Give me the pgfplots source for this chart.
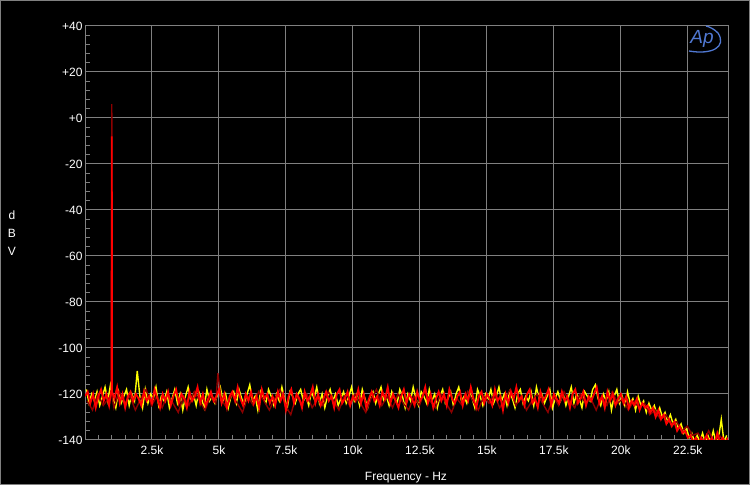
\documentclass[border=0pt]{standalone}
\usepackage{pgfplots}
\pgfplotsset{compat=1.18}
\usepackage{fontspec}
\setmainfont{Liberation Sans}
\definecolor{gridgray}{RGB}{128,128,128}
\definecolor{apred}{RGB}{255,0,0}
\definecolor{apdark}{RGB}{140,0,0}
\definecolor{apyellow}{RGB}{255,255,0}
\definecolor{apblue}{RGB}{80,120,210}
\begin{document}
\begin{tikzpicture}[x=1pt,y=1pt]
\useasboundingbox (0,0) rectangle (750,485);
\fill[black] (0,0) rectangle (750,485);
\draw[gray, line width=1pt] (0.5,0.5) rectangle (749.5,484.5);
\begin{axis}[
  at={(85pt,45pt)}, anchor=south west,
  scale only axis, width=643pt, height=414pt,
  xmin=0, xmax=24, ymin=-140, ymax=40,
  axis line style={gridgray, line width=1pt},
  grid=major,
  major grid style={gridgray, line width=1pt},
  xtick={2.5,5,7.5,10,12.5,15,17.5,20,22.5},
  xticklabels={2.5k,5k,7.5k,10k,12.5k,15k,17.5k,20k,22.5k},
  minor xtick={0.5,1,...,23.5},
  ytick={-140,-120,-100,-80,-60,-40,-20,0,20,40},
  yticklabels={-140,-120,-100,-80,-60,-40,-20,+0,+20,+40},
  minor ytick={-136,-132,...,36},
  major tick length=0pt,
  minor tick length=5pt,
  tick align=inside,
  xtick pos=left, ytick pos=left,
  minor tick style={gridgray, line width=1pt},
  ticklabel style={white, font=\fontsize{12}{14}\selectfont},
  xticklabel style={yshift=-2pt},
  yticklabel style={xshift=1pt},
]
\addplot[apyellow, line width=1.4pt] coordinates {
(0.05,-118)(0.15,-124)(0.25,-120)(0.35,-123)(0.45,-119)(0.55,-125)(0.65,-121)(0.75,-117)(0.85,-123)(0.95,-116)
(1.05,-122)(1.15,-126)(1.25,-119)(1.35,-124)(1.45,-121)(1.55,-118)(1.65,-125)(1.75,-120)(1.85,-123)(1.95,-110)
(2.05,-121)(2.15,-126)(2.25,-118)(2.35,-124)(2.45,-120)(2.55,-122)(2.65,-117)(2.75,-125)(2.85,-121)(2.95,-123)
(3.05,-119)(3.15,-126)(3.25,-122)(3.35,-118)(3.45,-124)(3.55,-120)(3.65,-127)(3.75,-121)(3.85,-117)(3.95,-123)
(4.05,-120)(4.15,-125)(4.25,-119)(4.35,-122)(4.45,-126)(4.55,-118)(4.65,-123)(4.75,-121)(4.85,-124)(4.95,-120)
(5.05,-117)(5.15,-123)(5.25,-120)(5.35,-126)(5.45,-121)(5.55,-119)(5.65,-124)(5.75,-118)(5.85,-122)(5.95,-125)
(6.05,-120)(6.15,-116)(6.25,-123)(6.35,-121)(6.45,-127)(6.55,-119)(6.65,-122)(6.75,-124)(6.85,-118)(6.95,-121)
(7.05,-125)(7.15,-120)(7.25,-123)(7.35,-117)(7.45,-122)(7.55,-126)(7.65,-119)(7.75,-121)(7.85,-124)(7.95,-120)
(8.05,-118)(8.15,-123)(8.25,-121)(8.35,-125)(8.45,-119)(8.55,-122)(8.65,-117)(8.75,-124)(8.85,-120)(8.95,-126)
(9.05,-121)(9.15,-118)(9.25,-123)(9.35,-120)(9.45,-125)(9.55,-122)(9.65,-119)(9.75,-124)(9.85,-121)(9.95,-117)
(10.05,-123)(10.15,-120)(10.25,-125)(10.35,-118)(10.45,-122)(10.55,-126)(10.65,-121)(10.75,-119)(10.85,-124)(10.95,-120)
(11.05,-117)(11.15,-123)(11.25,-121)(11.35,-125)(11.45,-119)(11.55,-122)(11.65,-124)(11.75,-118)(11.85,-121)(11.95,-126)
(12.05,-120)(12.15,-123)(12.25,-117)(12.35,-122)(12.45,-125)(12.55,-119)(12.65,-121)(12.75,-124)(12.85,-118)(12.95,-123)
(13.05,-120)(13.15,-126)(13.25,-121)(13.35,-118)(13.45,-124)(13.55,-122)(13.65,-119)(13.75,-125)(13.85,-120)(13.95,-117)
(14.05,-123)(14.15,-121)(14.25,-124)(14.35,-119)(14.45,-122)(14.55,-126)(14.65,-118)(14.75,-121)(14.85,-125)(14.95,-120)
(15.05,-122)(15.15,-118)(15.25,-124)(15.35,-121)(15.45,-117)(15.55,-123)(15.65,-120)(15.75,-125)(15.85,-119)(15.95,-122)
(16.05,-126)(16.15,-120)(16.25,-118)(16.35,-124)(16.45,-121)(16.55,-123)(16.65,-119)(16.75,-125)(16.85,-117)(16.95,-122)
(17.05,-120)(17.15,-124)(17.25,-121)(17.35,-118)(17.45,-126)(17.55,-122)(17.65,-119)(17.75,-123)(17.85,-120)(17.95,-125)
(18.05,-121)(18.15,-117)(18.25,-124)(18.35,-120)(18.45,-122)(18.55,-126)(18.65,-119)(18.75,-121)(18.85,-123)(18.95,-118)
(19.05,-116)(19.15,-122)(19.25,-125)(19.35,-120)(19.45,-123)(19.55,-119)(19.65,-127)(19.75,-121)(19.85,-118)(19.95,-124)
(20.05,-121)(20.15,-125)(20.25,-119)(20.35,-124)(20.45,-122)(20.55,-127)(20.65,-121)(20.75,-125)(20.85,-123)(20.95,-128)
(21.05,-124)(21.15,-127)(21.25,-125)(21.35,-129)(21.45,-126)(21.55,-130)(21.65,-128)(21.75,-132)(21.85,-129)(21.95,-133)
(22.05,-131)(22.15,-135)(22.25,-133)(22.35,-137)(22.45,-135)(22.55,-139)(22.65,-137)(22.75,-141)(22.85,-138)(22.95,-141)
(23.05,-137)(23.15,-141)(23.25,-138)(23.35,-141)(23.45,-136)(23.55,-141)(23.65,-139)(23.75,-131)(23.85,-141)(23.95,-138)
};
\addplot[apdark, line width=1.4pt] coordinates {
(0.08,-123)(0.28,-127)(0.48,-120)(0.68,-125)(0.88,-122)(0.99,-120)(1.0,6)(1.01,-121)
(1.08,-126)(1.28,-119)(1.48,-124)(1.68,-121)(1.88,-127)(2.08,-122)(2.28,-118)(2.48,-125)(2.68,-121)(2.88,-126)
(3.08,-120)(3.28,-124)(3.48,-128)(3.68,-121)(3.88,-125)(4.08,-119)(4.28,-123)(4.48,-127)(4.68,-121)(4.88,-124)
(4.96,-111)(5.08,-122)(5.28,-126)(5.48,-120)(5.68,-124)(5.88,-128)
(6.08,-121)(6.28,-125)(6.48,-119)(6.68,-123)(6.88,-127)(7.08,-122)(7.28,-118)(7.48,-125)(7.68,-129)(7.88,-121)
(8.08,-124)(8.28,-120)(8.48,-126)(8.68,-122)(8.88,-125)(9.08,-119)(9.28,-123)(9.48,-127)(9.68,-121)(9.88,-125)
(10.08,-120)(10.28,-124)(10.48,-128)(10.68,-122)(10.88,-118)(11.08,-125)(11.28,-121)(11.48,-126)(11.68,-120)(11.88,-124)
(12.08,-127)(12.28,-121)(12.48,-125)(12.68,-119)(12.88,-123)(13.08,-126)(13.28,-120)(13.48,-124)(13.68,-128)(13.88,-122)
(14.08,-125)(14.28,-119)(14.48,-123)(14.68,-127)(14.88,-121)(15.08,-124)(15.28,-120)(15.48,-126)(15.68,-122)(15.88,-118)
(16.08,-125)(16.28,-121)(16.48,-127)(16.68,-123)(16.88,-120)(17.08,-124)(17.28,-128)(17.48,-121)(17.68,-125)(17.88,-119)
(18.08,-123)(18.28,-126)(18.48,-120)(18.68,-124)(18.88,-122)(19.08,-127)(19.28,-121)(19.48,-125)(19.68,-119)(19.88,-124)
(20.08,-122)(20.28,-127)(20.48,-123)(20.68,-126)(20.88,-124)(21.08,-129)(21.28,-127)(21.48,-131)(21.68,-129)(21.88,-133)
(22.08,-132)(22.28,-136)(22.48,-134)(22.68,-138)(22.88,-137)(23.08,-141)(23.28,-136)(23.48,-141)(23.68,-138)(23.88,-141)
};
\addplot[apred, line width=1.8pt] coordinates {
(0.0,-121)(0.1,-119)(0.2,-124)(0.3,-120)(0.4,-126)(0.5,-121)(0.6,-118)(0.7,-123)(0.8,-120)(0.9,-125)
(0.99,-118)(1.0,-8)(1.01,-119)
(1.1,-122)(1.2,-117)(1.3,-124)(1.4,-120)(1.5,-126)(1.6,-121)(1.7,-119)(1.8,-123)(1.9,-120)
(2.0,-122)(2.1,-125)(2.2,-119)(2.3,-123)(2.4,-121)(2.5,-124)(2.6,-118)(2.7,-122)(2.8,-126)(2.9,-120)
(3.0,-123)(3.1,-119)(3.2,-125)(3.3,-121)(3.4,-118)(3.5,-124)(3.6,-120)(3.7,-122)(3.8,-126)(3.9,-119)
(4.0,-123)(4.1,-121)(4.2,-117)(4.3,-124)(4.4,-120)(4.5,-125)(4.6,-122)(4.7,-119)(4.8,-123)(4.9,-121)
(5.0,-118)(5.1,-124)(5.2,-120)(5.3,-126)(5.4,-121)(5.5,-119)(5.6,-123)(5.7,-117)(5.8,-122)(5.9,-125)
(6.0,-120)(6.1,-123)(6.2,-119)(6.3,-124)(6.4,-121)(6.5,-126)(6.6,-118)(6.7,-122)(6.8,-120)(6.9,-124)
(7.0,-121)(7.1,-125)(7.2,-119)(7.3,-123)(7.4,-120)(7.5,-127)(7.6,-121)(7.7,-118)(7.8,-124)(7.9,-120)
(8.0,-122)(8.1,-126)(8.2,-119)(8.3,-123)(8.4,-121)(8.5,-117)(8.6,-124)(8.7,-120)(8.8,-125)(8.9,-122)
(9.0,-119)(9.1,-123)(9.2,-121)(9.3,-126)(9.4,-120)(9.5,-118)(9.6,-124)(9.7,-122)(9.8,-119)(9.9,-125)
(10.0,-121)(10.1,-123)(10.2,-118)(10.3,-124)(10.4,-120)(10.5,-126)(10.6,-122)(10.7,-119)(10.8,-123)(10.9,-121)
(11.0,-125)(11.1,-119)(11.2,-122)(11.3,-117)(11.4,-124)(11.5,-120)(11.6,-123)(11.7,-126)(11.8,-121)(11.9,-118)
(12.0,-124)(12.1,-120)(12.2,-122)(12.3,-125)(12.4,-119)(12.5,-123)(12.6,-121)(12.7,-117)(12.8,-124)(12.9,-120)
(13.0,-126)(13.1,-122)(13.2,-119)(13.3,-123)(13.4,-120)(13.5,-125)(13.6,-118)(13.7,-122)(13.8,-124)(13.9,-121)
(14.0,-119)(14.1,-125)(14.2,-120)(14.3,-123)(14.4,-117)(14.5,-122)(14.6,-126)(14.7,-121)(14.8,-119)(14.9,-124)
(15.0,-120)(15.1,-122)(15.2,-125)(15.3,-118)(15.4,-123)(15.5,-121)(15.6,-127)(15.7,-120)(15.8,-124)(15.9,-119)
(16.0,-122)(16.1,-117)(16.2,-123)(16.3,-121)(16.4,-125)(16.5,-120)(16.6,-118)(16.7,-124)(16.8,-122)(16.9,-126)
(17.0,-119)(17.1,-123)(17.2,-121)(17.3,-118)(17.4,-125)(17.5,-120)(17.6,-122)(17.7,-124)(17.8,-119)(17.9,-123)
(18.0,-121)(18.1,-126)(18.2,-120)(18.3,-118)(18.4,-124)(18.5,-122)(18.6,-119)(18.7,-125)(18.8,-121)(18.9,-123)
(19.0,-120)(19.1,-117)(19.2,-124)(19.3,-121)(19.4,-126)(19.5,-119)(19.6,-123)(19.7,-120)(19.8,-125)(19.9,-122)
(20.0,-120)(20.1,-124)(20.2,-121)(20.3,-126)(20.4,-123)(20.5,-125)(20.6,-122)(20.7,-127)(20.8,-124)(20.9,-126)
(21.0,-125)(21.1,-128)(21.2,-126)(21.3,-130)(21.4,-127)(21.5,-131)(21.6,-129)(21.7,-133)(21.8,-131)(21.9,-134)
(22.0,-132)(22.1,-136)(22.2,-134)(22.3,-137)(22.4,-136)(22.5,-139)(22.6,-138)(22.7,-141)(22.8,-139)(22.9,-141)
(23.0,-139)(23.1,-141)(23.2,-138)(23.3,-141)(23.4,-139)(23.5,-142)(23.6,-137)(23.7,-141)(23.8,-139)(23.9,-141)(24.0,-139)
};
\end{axis}
\node[white, font=\fontsize{12}{14}\selectfont] at (406,7) {Frequency - Hz};
\node[white, font=\fontsize{12}{14}\selectfont] at (12,270) {d};
\node[white, font=\fontsize{12}{14}\selectfont] at (12,252) {B};
\node[white, font=\fontsize{12}{14}\selectfont] at (12,234) {V};
\node[apblue, font=\fontsize{19}{19}\selectfont\itshape] at (702,446) {Ap};
\draw[apblue, line width=1.3pt] (689,434) .. controls (712,430) and (727,438) .. (718,452) .. controls (714,456) and (710,458) .. (706,459);
\end{tikzpicture}
\end{document}
